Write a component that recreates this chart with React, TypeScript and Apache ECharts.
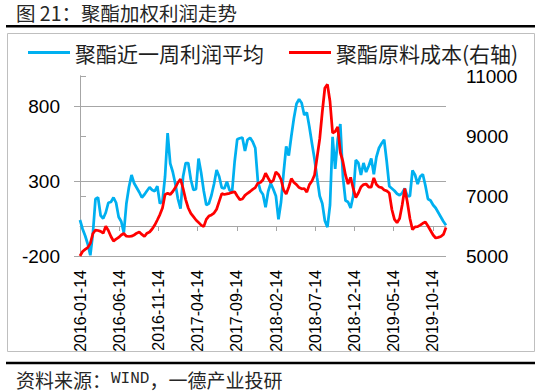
import React, { useEffect, useRef } from 'react';
import * as echarts from 'echarts';

// sampling: one point every 10 days from 2016-01-14
const startDate = '2016-01-14';
const stepDays = 10;

const tickLabels = [
  '2016-01-14', '2016-06-14', '2016-11-14', '2017-04-14', '2017-09-14',
  '2018-02-14', '2018-07-14', '2018-12-14', '2019-05-14', '2019-10-14',
];

const legendNames = ['聚酯近一周利润平均', '聚酯原料成本(右轴)'];

// 聚酯近一周利润平均 (left axis)
const profit = [
  40, -20, -65, -120, -195, -50, 180, 190, 70, 50,
  90, 155, 160, 190, 155, 60, 30, -45, 150, 260,
  340, 285, 255, 225, 190, 210, 235, 258, 240, 232,
  265, 150, 165, 330, 620, 418, 360, 280, 180, 115,
  330, 420, 420, 310, 240, 245, 450, 355, 235, 140,
  150, 205, 280, 373, 330, 255, 250, 295, 240, 228,
  430, 578, 585, 590, 500, 575, 588, 562, 520, 300,
  235, 210, 125, 230, 285, 245, 200, 44, 160, 355,
  530, 470, 600, 720, 815, 845, 820, 740, 756, 660,
  550, 445, 320, 200, 150, 35, -8, 140, 595, 380,
  580, 680, 330, 170, 160, 120, 200, 440, 420, 340,
  420, 360, 400, 450, 345, 460, 520, 550, 575, 430,
  265, 250, 235, 215, 205, 220, 250, 200, 200, 370,
  340, 280, 330, 345, 270, 180, 170, 140, 120, 90,
  60, 30, 5,
];

// 聚酯原料成本 (right axis)
const cost = [
  5000, 5150, 5220, 5280, 5420, 5750, 5860, 5850, 5820, 5760,
  5990, 5850, 5650, 5500, 5560, 5620, 5700, 5750, 5660, 5650,
  5660, 5700, 5760, 5800, 5720, 5650, 5760, 5800, 5900, 6030,
  6200, 6380, 6600, 7050, 7090, 7050, 7150, 7280, 7450, 7560,
  7250, 6880, 6600, 6420, 6310, 6200, 6120, 6030, 5980, 6220,
  6330, 6370, 6430, 6560, 6820, 7080, 7050, 7070, 7090, 7120,
  7140, 7000, 6880, 6900, 7020, 7090, 7150, 7220, 7280, 7430,
  7450, 7540, 7760, 7600, 7450, 7520, 7800, 7720, 7550, 7200,
  7070, 7300, 7580, 7450, 7380, 7280, 7240, 7250, 7130, 7380,
  7500, 7700, 8300, 8900, 9800, 10600, 10720, 10150, 9100, 9150,
  9300, 8450, 8150, 7700, 7400, 7620, 7250, 6950, 7100, 7300,
  7380, 7400, 7300, 7300, 7600, 7380, 7300, 7280, 7200, 7170,
  7100, 6550, 6220, 6110, 6250, 6700, 7250, 6800, 6250, 5880,
  5970, 5980, 6030, 6090, 6130, 6000, 5850, 5700, 5600, 5620,
  5650, 5720, 5950,
];

const DAY = 86400000;
const dayOffset = (s: string) => {
  const [y, m, d] = s.split('-').map(Number);
  const [y0, m0, d0] = startDate.split('-').map(Number);
  return Math.round((Date.UTC(y, m - 1, d) - Date.UTC(y0, m0 - 1, d0)) / DAY);
};

export default function App() {
  const ref = useRef<HTMLDivElement>(null);
  useEffect(() => {
    const chart = echarts.init(ref.current!, null, { renderer: 'svg' });
    const profitData = profit.map((v, i) => [i * stepDays, v]);
    const costData = cost.map((v, i) => [i * stepDays, v]);
    const xMax = (profit.length - 1) * stepDays;
    const tickDays = tickLabels.map(dayOffset);
    const labelFor = (v: number) => {
      let best = 0;
      tickDays.forEach((d, i) => { if (Math.abs(d - v) < Math.abs(tickDays[best] - v)) best = i; });
      return tickLabels[best];
    };
    const gray = '#a6a6a6';
    const numFont = 'Liberation Sans';
    const cjk = 'Noto Sans CJK SC';
    const legendText = { fontSize: 21, lineHeight: 21, fontFamily: cjk, color: '#1f1f1f' };

    chart.setOption({
      animation: false,
      backgroundColor: '#ffffff',
      grid: { left: 80, right: 97, top: 76, bottom: 136, containLabel: false },
      legend: [
        {
          data: [legendNames[0]], left: 28, top: 42, padding: 0,
          icon: 'rect', itemWidth: 42, itemHeight: 3, textStyle: legendText,
        },
        {
          data: [legendNames[1]], left: 289, top: 42, padding: 0,
          icon: 'rect', itemWidth: 42, itemHeight: 3, textStyle: legendText,
        },
      ],
      xAxis: [
        {
          type: 'value', min: 0, max: xMax, position: 'bottom',
          axisLine: { show: true, onZero: true, lineStyle: { color: gray, width: 1 } },
          axisTick: { show: true, length: 5, customValues: tickDays, lineStyle: { color: gray } },
          axisLabel: { show: false },
          splitLine: { show: false },
        },
        {
          type: 'value', min: 0, max: xMax, position: 'bottom',
          axisLine: { show: false, onZero: false },
          axisTick: { show: false },
          splitLine: { show: false },
          axisLabel: {
            show: true, customValues: tickDays, rotate: 90, margin: 14,
            fontSize: 16, fontFamily: numFont, color: '#000',
            formatter: (v: number) => labelFor(v), hideOverlap: false,
          },
        },
      ],
      yAxis: [
        {
          type: 'value', min: -200, max: 1000, interval: 500, position: 'left',
          axisLine: { show: true, lineStyle: { color: gray } },
          axisTick: { show: true, length: 6, lineStyle: { color: gray } },
          axisLabel: {
            fontSize: 19, fontFamily: numFont, color: '#000', margin: 20, showMaxLabel: false,
            formatter: (v: number) => String(v),
          },
          splitLine: { show: true, showMaxLine: false, lineStyle: { color: gray, width: 1 } },
        },
        {
          type: 'value', min: 5000, max: 11000, interval: 2000, position: 'right',
          axisLine: { show: true, lineStyle: { color: gray } },
          axisTick: { show: true, length: 6, lineStyle: { color: gray } },
          axisLabel: {
            fontSize: 19, fontFamily: numFont, color: '#000', margin: 20,
            formatter: (v: number) => String(v),
          },
          splitLine: { show: false },
        },
      ],
      series: [
        {
          name: legendNames[0], type: 'line', data: profitData,
          xAxisIndex: 0, yAxisIndex: 0, showSymbol: false,
          itemStyle: { color: '#00b0f0' },
          lineStyle: { color: '#00b0f0', width: 2.75 },
        },
        {
          name: legendNames[1], type: 'line', data: costData,
          xAxisIndex: 0, yAxisIndex: 1, showSymbol: false,
          itemStyle: { color: '#ff0000' },
          lineStyle: { color: '#ff0000', width: 2.75 },
        },
      ],
      graphic: [
        {
          type: 'text', left: 16, top: 3,
          style: {
            text: '图 21：聚酯加权利润走势', fontSize: 19.5, lineHeight: 18,
            fontFamily: cjk, fill: '#262626',
          },
        },
        {
          type: 'line', shape: { x1: 6, y1: 26.2, x2: 535, y2: 26.2 },
          style: { stroke: '#000', lineWidth: 2.5 },
        },
        {
          type: 'rect', shape: { x: 7.5, y: 33.5, width: 527, height: 318 },
          style: { fill: 'none', stroke: '#bfbfbf', lineWidth: 1 },
        },
        {
          type: 'line', shape: { x1: 6, y1: 363, x2: 535, y2: 363 },
          style: { stroke: '#000', lineWidth: 2.5 },
        },
        {
          type: 'text', left: 16, top: 369,
          style: {
            text: '资料来源：{m|WIND}，一德产业投研',
            fontSize: 19, lineHeight: 20, fontFamily: cjk, fill: '#262626',
            rich: { m: { fontSize: 16, lineHeight: 20, fontFamily: 'Liberation Mono', fill: '#262626' } },
          },
        },
      ],
    });
    return () => chart.dispose();
  }, []);
  return <div ref={ref} style={{ position: 'absolute', left: 0, top: 0, width: 543, height: 392 }} />;
}
